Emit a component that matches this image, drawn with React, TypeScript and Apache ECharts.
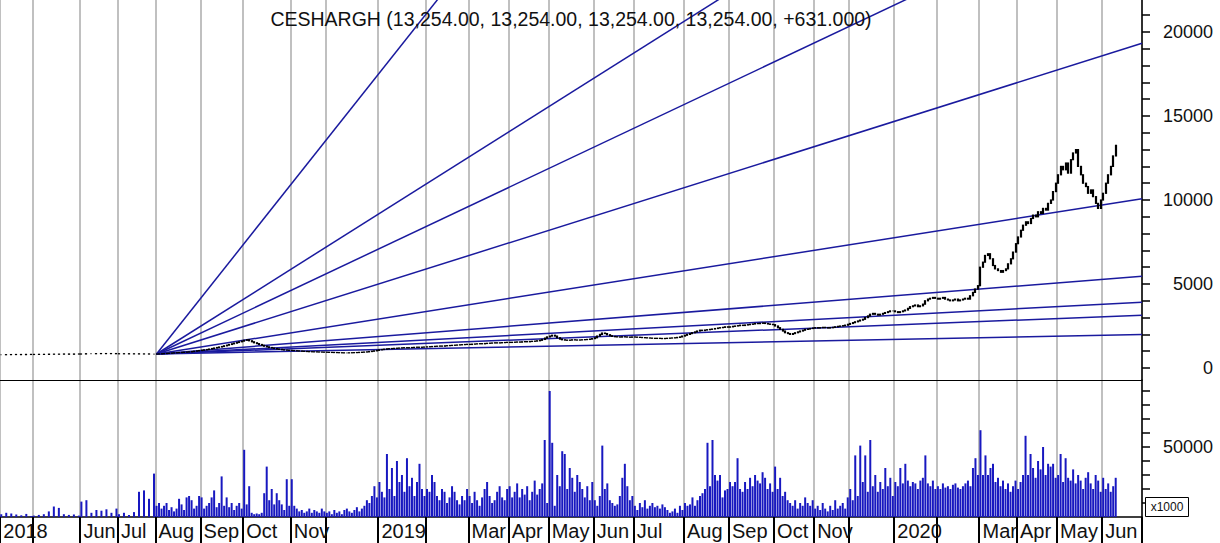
import React, { useEffect, useRef } from "react";
import * as echarts from "echarts";

// ---- month layout (day slots per month) ----
const monthLabels = [
  "2018", "", "Jun", "Jul", "Aug", "Sep", "Oct", "Nov", "",
  "2019", "", "Mar", "Apr", "May", "Jun", "Jul", "Aug", "Sep", "Oct", "Nov", "",
  "2020", "", "Mar", "Apr", "May", "Jun",
];
const monthDays = [13, 19, 15, 15, 18, 17, 19, 14, 21, 19, 17, 16, 16, 18, 16, 20, 18, 18, 16, 14, 18, 17, 17, 15, 16, 18, 6];
const emptyDaysAtEnd = 10;

// ---- daily closes, one array per month (null = no trade that day) ----
const closesByMonth = [
  [790, null, 795, null, 800, null, 805, null, 795, null, 810, null, 805],
  [810, null, 815, null, 810, null, 825, null, 820, null, 825, null, 835, null, 820, null, 835, null, 830],
  [835, null, 850, null, 850, null, 855, null, 860, null, 855, null, 860, null, 850],
  [845, null, 850, null, 840, null, 845, null, 835, null, 840, null, 830, null, 830],
  [833, 840, 850, 860, 870, 880, 890, 900, 910, 920, 930, 940, 950, 960, 980, 1000, 1020, 1040],
  [1060, 1080, 1100, 1130, 1160, 1190, 1220, 1250, 1280, 1320, 1360, 1400, 1440, 1480, 1520, 1560, 1600],
  [1650, 1680, 1620, 1560, 1500, 1450, 1400, 1350, 1300, 1260, 1220, 1190, 1160, 1130, 1110, 1090, 1070, 1060, 1050],
  [1040, 1030, 1020, 1010, 1000, 990, 980, 970, 965, 960, 955, 950, 945, 940],
  [935, 930, 925, 920, 915, 910, 905, 900, 900, 905, 910, 915, 920, 930, 940, 950, 960, 980, 1000, 1020, 1050],
  [1080, 1100, 1120, 1140, 1150, 1160, 1170, 1180, 1190, 1200, 1210, 1200, 1210, 1220, 1230, 1240, 1230, 1240, 1250],
  [1260, 1270, 1280, 1290, 1300, 1310, 1300, 1320, 1330, 1340, 1350, 1360, 1370, 1380, 1390, 1400, 1410],
  [1400, 1420, 1430, 1440, 1450, 1440, 1460, 1470, 1480, 1490, 1500, 1490, 1500, 1510, 1520, 1530],
  [1520, 1530, 1540, 1550, 1540, 1560, 1570, 1560, 1580, 1590, 1600, 1620, 1650, 1700, 1780, 1850],
  [1900, 1950, 1900, 1800, 1720, 1680, 1660, 1650, 1660, 1680, 1670, 1660, 1670, 1680, 1690, 1700, 1720, 1750],
  [1800, 1900, 2000, 2080, 2050, 1980, 1920, 1880, 1860, 1850, 1840, 1860, 1850, 1840, 1830, 1850],
  [1840, 1830, 1820, 1810, 1800, 1790, 1780, 1770, 1760, 1770, 1760, 1750, 1760, 1770, 1780, 1790, 1800, 1820, 1850, 1900],
  [1950, 2000, 2050, 2100, 2150, 2200, 2250, 2230, 2260, 2280, 2300, 2320, 2350, 2380, 2400, 2420, 2450, 2430],
  [2450, 2480, 2500, 2520, 2550, 2530, 2560, 2580, 2600, 2620, 2650, 2640, 2660, 2680, 2650, 2620, 2600, 2580],
  [2500, 2400, 2300, 2200, 2100, 2050, 2000, 2050, 2100, 2150, 2200, 2250, 2300, 2320, 2350, 2380],
  [2400, 2380, 2400, 2420, 2400, 2380, 2400, 2420, 2450, 2480, 2500, 2520, 2550, 2600],
  [2650, 2700, 2750, 2800, 2850, 2900, 3000, 3100, 3200, 3250, 3200, 3150, 3200, 3250, 3300, 3350, 3400, 3400],
  [3350, 3300, 3350, 3400, 3450, 3550, 3650, 3700, 3750, 3650, 3700, 3800, 4000, 4100, 4150, 4200, 4150],
  [4100, 4150, 4200, 4100, 4050, 4000, 4050, 4100, 4000, 4050, 4100, 4150, 4100, 4300, 4500, 4700, 4900],
  [6000, 6300, 6700, 6800, 6500, 6100, 5900, 5800, 5700, 5800, 5900, 6200, 6500, 6900, 7400],
  [7800, 8200, 8500, 8700, 8600, 8900, 9100, 9000, 9300, 9200, 9500, 9400, 9800, 10000, 10500, 11000],
  [11500, 12000, 11800, 12200, 11600, 12400, 12800, 13000, 12000, 11500, 11000, 10800, 10400, 10600, 10200, 9800, 9500, 10000],
  [10400, 11000, 11500, 12000, 12623, 13254],
];

// ---- daily volume (x1000), one array per month ----
const volumesByMonth = [
  [2000, null, 3000, null, 2500, null, 1800, null, 1200, null, 2200, null, 800],
  [1000, null, 1500, null, 2000, null, 4000, null, 7500, null, 6500, null, 2000, null, 1500, null, 1800, null, 1000],
  [11000, null, 12000, null, 3000, null, 5000, null, 4500, null, 5500, null, 3000, null, 6000],
  [2000, null, 3000, null, 1500, null, 3500, null, 18000, null, 19000, null, 13000, null, 31000],
  [8000, 10000, 6000, 8000, 10000, 5000, 7000, 4000, 6000, 13000, 9000, 5000, 14000, 15000, 12000, 6000, 8000, 15000],
  [14000, 6000, 8000, 10000, 14000, 19000, 7000, 10000, 29000, 8000, 14000, 7000, 10000, 5000, 8000, 10000, 6000],
  [48000, 9000, 22000, 3000, 2000, 2500, 2000, 3000, 17000, 36000, 12000, 20000, 9000, 17000, 12000, 9000, 5000, 27000, 8000],
  [27000, 8000, 6000, 4000, 5000, 3000, 4000, 6000, 3000, 5000, 4000, 3000, 6000, 4000],
  [3000, 4000, 2000, 5000, 3000, 4000, 2000, 5000, 6000, 4000, 3000, 5000, 7000, 4000, 6000, 8000, 12000, 10000, 15000, 22000, 14000],
  [25000, 18000, 14000, 45000, 20000, 35000, 15000, 40000, 25000, 30000, 18000, 42000, 22000, 28000, 15000, 25000, 38000, 20000, 15000],
  [20000, 18000, 30000, 25000, 15000, 12000, 20000, 18000, 10000, 14000, 22000, 18000, 12000, 9000, 15000, 12000, 20000],
  [15000, 10000, 18000, 12000, 8000, 14000, 20000, 25000, 15000, 10000, 12000, 18000, 22000, 14000, 12000, 20000],
  [22000, 14000, 18000, 24000, 14000, 20000, 16000, 22000, 12000, 18000, 26000, 16000, 20000, 24000, 55000, 10000],
  [90000, 53000, 8000, 30000, 22000, 47000, 45000, 20000, 35000, 28000, 18000, 30000, 25000, 20000, 14000, 22000, 12000, 25000],
  [12000, 8000, 15000, 51000, 20000, 24000, 12000, 10000, 8000, 9000, 15000, 28000, 38000, 22000, 12000, 15000],
  [8000, 5000, 10000, 7000, 12000, 6000, 8000, 10000, 7000, 8000, 6000, 9000, 7000, 5000, 3000, 4000, 6000, 3000, 8000, 5000],
  [10000, 8000, 9000, 14000, 8000, 12000, 15000, 17000, 20000, 53000, 22000, 55000, 30000, 26000, 30000, 14000, 19000, 20000],
  [25000, 22000, 25000, 42000, 20000, 18000, 25000, 20000, 28000, 22000, 30000, 26000, 24000, 32000, 28000, 20000, 24000, 18000],
  [36000, 20000, 28000, 15000, 18000, 12000, 10000, 8000, 12000, 6000, 10000, 8000, 14000, 10000, 8000, 12000],
  [6000, 8000, 5000, 10000, 6000, 4000, 8000, 5000, 12000, 6000, 8000, 10000, 6000, 14000],
  [20000, 12000, 44000, 15000, 51000, 25000, 44000, 18000, 55000, 22000, 30000, 18000, 25000, 20000, 35000, 22000, 28000, 15000],
  [25000, 22000, 35000, 24000, 38000, 26000, 22000, 25000, 24000, 20000, 26000, 28000, 44000, 24000, 22000, 26000, 20000],
  [22000, 20000, 24000, 21000, 22000, 20000, 23000, 24000, 21000, 20000, 22000, 24000, 26000, 22000, 35000, 42000, 30000],
  [62000, 30000, 44000, 30000, 35000, 38000, 25000, 28000, 22000, 26000, 20000, 24000, 18000, 22000, 26000],
  [20000, 25000, 30000, 58000, 30000, 45000, 35000, 28000, 40000, 34000, 50000, 30000, 38000, 36000, 38000, 28000],
  [30000, 45000, 25000, 42000, 28000, 26000, 34000, 24000, 30000, 26000, 20000, 28000, 32000, 24000, 20000, 30000, 26000, 18000],
  [28000, 20000, 24000, 18000, 22000, 28000],
];

// ---- Gann fan ----
const gannRatios = [8, 4, 3, 2, 1, 1 / 2, 1 / 3, 1 / 4, 1 / 8];
const gannOriginIndex = 62;
const gannOriginPrice = 833;
const gannUnitPerBar = 23.5;

// ---- axis ticks ----
const priceLabelValues = [0, 5000, 10000, 15000, 20000];
const priceTickValues = [0, 1000, 2000, 3000, 4000, 5000, 6000, 7000, 8000, 9000, 10000, 11000, 12000, 13000, 14000, 15000, 16000, 17000, 18000, 19000, 20000, 21000];
const volumeLabelValues = [50000];
const volumeTickValues = [10000, 20000, 30000, 40000, 50000, 60000, 70000, 80000, 90000];

const titleText = "CESHARGH (13,254.00, 13,254.00, 13,254.00, 13,254.00, +631.000)";

const FONT = "'Liberation Sans', Arial, sans-serif";

export default function App() {
  const ref = useRef<HTMLDivElement>(null);

  useEffect(() => {
    document.body.style.margin = "0";
    const chart = echarts.init(ref.current!, null, { renderer: "svg" });

    const cats: string[] = [];
    const monthStart = new Set<number>();
    const labelAt: Record<string, string> = {};
    const labelIdx = new Set<number>();
    monthDays.forEach((n, m) => {
      for (let d = 0; d < n; d++) {
        const name = `m${m}d${d}`;
        if (d === 0) {
          monthStart.add(cats.length);
          if (monthLabels[m]) {
            labelIdx.add(cats.length);
            labelAt[name] = monthLabels[m];
          }
        }
        cats.push(name);
      }
    });
    for (let i = 0; i < emptyDaysAtEnd; i++) cats.push(`e${i}`);
    const N = cats.length;

    const closes = closesByMonth.flat() as (number | null)[];
    const volumes = volumesByMonth.flat() as (number | null)[];
    let prev: number | null = null;
    const candles = closes.map((c) => {
      if (c === null) return ["-", "-", "-", "-"];
      const o = prev === null ? c : prev;
      prev = c;
      return [o, c, Math.min(o, c), Math.max(o, c)];
    });

    const yMax = 21905;
    const yMin = -714.3;
    const xEnd = N - 0.5;
    const gannSeries = gannRatios.map((r) => ({
      type: "line",
      xAxisIndex: 2,
      yAxisIndex: 0,
      data: [
        [gannOriginIndex, gannOriginPrice],
        [xEnd, gannOriginPrice + gannUnitPerBar * r * (xEnd - gannOriginIndex)],
      ],
      showSymbol: false,
      silent: true,
      clip: true,
      lineStyle: { color: "#1a1a9e", width: 1.5 },
      z: 3,
    }));

    const gridLine = {
      show: true,
      interval: (i: number) => monthStart.has(i),
      lineStyle: { color: "#c0c0c0", width: 2 },
    };
    const numFmt = (v: number) => String(Math.round(v));

    chart.setOption({
      animation: false,
      backgroundColor: "#ffffff",
      textStyle: { fontFamily: FONT },
      grid: [
        { left: 0, top: 0, width: 1142, height: 380 },
        { left: 0, top: 380, width: 1142, height: 137 },
      ],
      xAxis: [
        {
          type: "category",
          gridIndex: 0,
          position: "bottom",
          data: cats,
          boundaryGap: true,
          axisLine: { show: true, onZero: false, lineStyle: { color: "#000", width: 1 } },
          axisTick: { show: false },
          axisLabel: { show: false },
          splitLine: gridLine,
        },
        {
          type: "category",
          gridIndex: 1,
          position: "bottom",
          data: cats,
          boundaryGap: true,
          axisLine: { show: true, onZero: false, lineStyle: { color: "#000", width: 1.5 } },
          axisTick: {
            show: true,
            interval: (i: number) => monthStart.has(i),
            length: 26,
            lineStyle: { color: "#000", width: 2 },
          },
          axisLabel: {
            show: true,
            interval: (i: number) => labelIdx.has(i),
            formatter: (v: string) => labelAt[v] || "",
            align: "left",
            margin: 4,
            padding: [0, 0, 0, 2],
            fontSize: 20,
            color: "#111",
            fontFamily: FONT,
          },
          splitLine: gridLine,
        },
        {
          type: "value",
          gridIndex: 0,
          position: "top",
          min: -0.5,
          max: xEnd,
          show: false,
          axisLine: { show: false, onZero: false },
          axisTick: { show: false },
          axisLabel: { show: false },
          splitLine: { show: false },
        },
      ],
      yAxis: [
        {
          type: "value",
          gridIndex: 0,
          position: "right",
          min: yMin,
          max: yMax,
          axisLine: { show: true, onZero: false, lineStyle: { color: "#000", width: 1.5 } },
          axisTick: { show: true, customValues: priceTickValues, length: 8, lineStyle: { color: "#000", width: 1.5 } },
          axisLabel: {
            show: true,
            customValues: priceLabelValues,
            formatter: numFmt,
            align: "right",
            margin: 71,
            fontSize: 18,
            color: "#111",
            fontFamily: FONT,
          },
          splitLine: { show: false },
        },
        {
          type: "value",
          gridIndex: 1,
          position: "right",
          min: 0,
          max: 97857,
          axisLine: { show: true, onZero: false, lineStyle: { color: "#000", width: 1.5 } },
          axisTick: { show: true, customValues: volumeTickValues, length: 8, lineStyle: { color: "#000", width: 1.5 } },
          axisLabel: {
            show: true,
            customValues: volumeLabelValues,
            formatter: numFmt,
            align: "right",
            margin: 71,
            fontSize: 18,
            color: "#111",
            fontFamily: FONT,
          },
          splitLine: { show: false },
        },
      ],
      series: [
        {
          type: "candlestick",
          xAxisIndex: 0,
          yAxisIndex: 0,
          data: candles,
          barWidth: 1.5,
          silent: true,
          itemStyle: {
            color: "#000",
            color0: "#000",
            borderColor: "#000",
            borderColor0: "#000",
            borderWidth: 1.2,
          },
          z: 4,
        },
        ...gannSeries,
        {
          type: "bar",
          xAxisIndex: 1,
          yAxisIndex: 1,
          data: volumes,
          barWidth: 2,
          silent: true,
          itemStyle: { color: "#1818c0" },
        },
      ],
      graphic: [
        {
          type: "text",
          x: 571,
          y: 19,
          style: {
            text: titleText,
            fontSize: 19.5,
            fontFamily: FONT,
            fill: "#111",
            align: "center",
            verticalAlign: "middle",
          },
          z: 10,
        },
        {
          type: "rect",
          shape: { x: 1145.5, y: 497.5, width: 43, height: 19 },
          style: { fill: "#fff", stroke: "#000", lineWidth: 1 },
          z: 10,
        },
        {
          type: "text",
          x: 1167,
          y: 507,
          style: {
            text: "x1000",
            fontSize: 12,
            fontFamily: FONT,
            fill: "#111",
            align: "center",
            verticalAlign: "middle",
          },
          z: 11,
        },
      ],
    });

    return () => chart.dispose();
  }, []);

  return (
    <div
      ref={ref}
      style={{ position: "absolute", left: 0, top: 0, width: 1220, height: 543, background: "#fff" }}
    />
  );
}
